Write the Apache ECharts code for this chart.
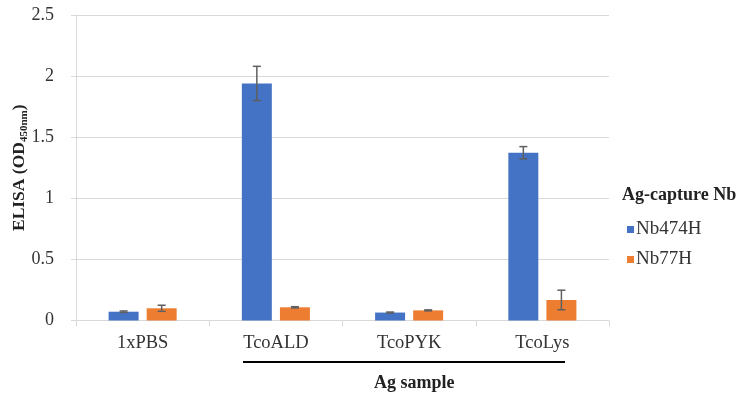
<!DOCTYPE html>
<html>
<head>
<meta charset="utf-8">
<script src="https://cdn.jsdelivr.net/npm/echarts@6/dist/echarts.min.js"></script>
<style>
  html, body { margin: 0; padding: 0; background: #fff; }
  #chart { width: 736px; height: 394px; }
</style>
</head>
<body>
<div id="chart"></div>
<script>
// Antigen samples on the x axis
const categories = ['1xPBS', 'TcoALD', 'TcoPYK', 'TcoLys'];
// Capture nanobodies (legend entries)
const seriesNames = ['Nb474H', 'Nb77H'];
// Mean ELISA OD450nm per sample
const nb474hMean = [0.072, 1.94, 0.065, 1.373];
const nb77hMean = [0.10, 0.108, 0.083, 0.168];
// Error (± standard deviation)
const nb474hErr = [0.006, 0.14, 0.004, 0.05];
const nb77hErr = [0.025, 0.005, 0.004, 0.08];
// Y axis ticks
const yTicks = [0, 0.5, 1, 1.5, 2, 2.5];

const FONT = '"Liberation Serif", "Times New Roman", serif';
const colors = ['#4472C4', '#ED7D31'];
const BAR_W = 0.225;   // fraction of category band
const BAR_GAP = 0.27;  // fraction of bar width

function errData(means, errs) {
  return means.map((m, i) => [i, m - errs[i], m + errs[i]]);
}

// Error bars drawn as whiskers centred over each bar of a group
function makeErrRender(seriesIdx) {
  return function (params, api) {
    const idx = api.value(0);
    const lo = api.coord([idx, api.value(1)]);
    const hi = api.coord([idx, api.value(2)]);
    const band = api.size([1, 0])[0];
    const bw = band * BAR_W;
    const total = bw * 2 + bw * BAR_GAP;
    const x = lo[0] - total / 2 + bw / 2 + seriesIdx * (bw + bw * BAR_GAP);
    const hw = 4;
    const style = { stroke: '#5f5f5f', lineWidth: 1.5 };
    return {
      type: 'group',
      children: [
        { type: 'line', shape: { x1: x, y1: lo[1], x2: x, y2: hi[1] }, style },
        { type: 'line', shape: { x1: x - hw, y1: lo[1], x2: x + hw, y2: lo[1] }, style },
        { type: 'line', shape: { x1: x - hw, y1: hi[1], x2: x + hw, y2: hi[1] }, style }
      ]
    };
  };
}

const chart = echarts.init(document.getElementById('chart'));
chart.setOption({
  animation: false,
  textStyle: { fontFamily: FONT },
  title: {
    text: 'Ag-capture Nb',
    left: 622,
    top: 186,
    padding: 0,
    textStyle: { fontFamily: FONT, fontWeight: 'bold', fontSize: 18, color: '#222' }
  },
  legend: {
    data: seriesNames,
    orient: 'vertical',
    left: 627,
    top: 220,
    padding: 0,
    itemWidth: 7,
    itemHeight: 7,
    itemGap: 11,
    icon: 'rect',
    textStyle: { fontFamily: FONT, fontSize: 19, color: '#333', padding: [0, 0, 0, -3] }
  },
  grid: { left: 76, right: 127, top: 15, bottom: 73.5, containLabel: false, outerBoundsMode: 'none' },
  xAxis: {
    type: 'category',
    data: categories,
    axisLine: { lineStyle: { color: '#d9d9d9', width: 1 } },
    axisTick: { show: true, length: 6, lineStyle: { color: '#d9d9d9' } },
    axisLabel: { fontFamily: FONT, fontSize: 18.5, color: '#333', margin: 13 }
  },
  yAxis: {
    type: 'value',
    min: 0,
    max: 2.5,
    interval: 0.5,
    axisLine: { show: true, lineStyle: { color: '#d9d9d9' } },
    axisTick: { show: true, length: 5, lineStyle: { color: '#d9d9d9' } },
    splitLine: { lineStyle: { color: '#d9d9d9' } },
    axisLabel: {
      fontFamily: FONT, fontSize: 18, color: '#333', margin: 22,
      formatter: v => (yTicks.includes(v) ? String(v) : '')
    },
    name: '{a|ELISA (OD}{s|450nm}{a|)}',
    nameLocation: 'middle',
    nameGap: 48,
    nameRotate: 90,
    nameMoveOverlap: false,
    nameTextStyle: {
      rich: {
        a: { fontFamily: FONT, fontWeight: 'bold', fontSize: 17.5, color: '#222', lineHeight: 22, verticalAlign: 'bottom' },
        s: { fontFamily: FONT, fontWeight: 'bold', fontSize: 11, color: '#222', lineHeight: 22, verticalAlign: 'bottom', padding: [0, 0, -2, 0] }
      }
    }
  },
  graphic: [
    {
      type: 'line',
      shape: { x1: 243, y1: 362, x2: 565, y2: 362 },
      style: { stroke: '#000', lineWidth: 2 }
    },
    {
      type: 'text',
      left: 374,
      top: 374,
      style: { text: 'Ag sample', fontFamily: FONT, fontWeight: 'bold', fontSize: 18, fill: '#222' }
    }
  ],
  series: [
    {
      name: seriesNames[0], type: 'bar', data: nb474hMean,
      barWidth: (BAR_W * 100) + '%', barGap: (BAR_GAP * 100) + '%',
      itemStyle: { color: colors[0] }
    },
    {
      name: seriesNames[1], type: 'bar', data: nb77hMean,
      barWidth: (BAR_W * 100) + '%', barGap: (BAR_GAP * 100) + '%',
      itemStyle: { color: colors[1] }
    },
    {
      type: 'custom', name: 'err474', data: errData(nb474hMean, nb474hErr),
      renderItem: makeErrRender(0), z: 5, silent: true,
      encode: { x: 0, y: [1, 2] }
    },
    {
      type: 'custom', name: 'err77', data: errData(nb77hMean, nb77hErr),
      renderItem: makeErrRender(1), z: 5, silent: true,
      encode: { x: 0, y: [1, 2] }
    }
  ]
});
</script>
</body>
</html>
